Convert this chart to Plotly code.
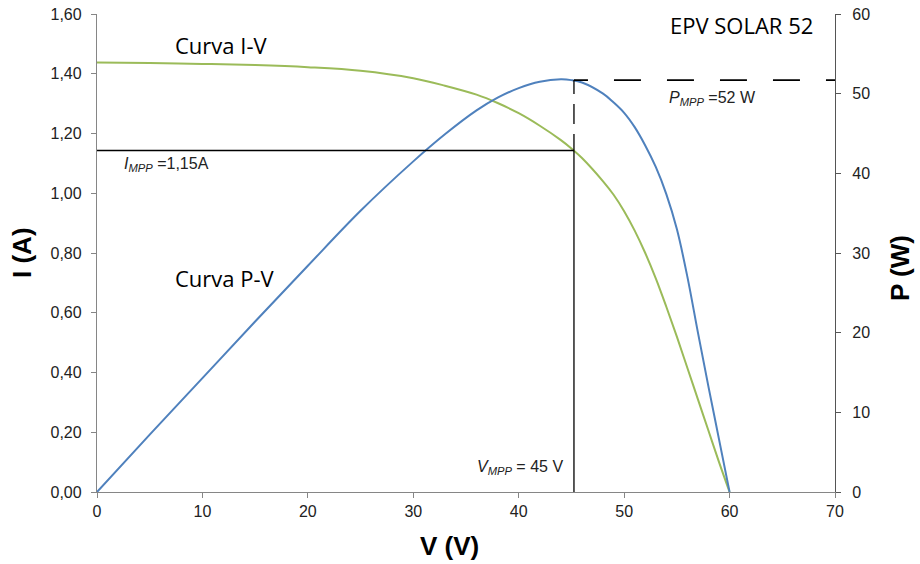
import plotly.graph_objects as go

# ---- data ----
V = [0, 5, 10, 15, 20, 25, 30, 33, 36, 38, 40, 42, 44, 45, 46, 48, 49, 50, 51, 52, 53, 54, 55, 56, 57, 58, 59, 60]
I_A = [1.438, 1.436, 1.433, 1.429, 1.422, 1.410, 1.385, 1.360, 1.330, 1.302, 1.268, 1.226, 1.178,
       1.150, 1.118, 1.040, 0.995, 0.940, 0.875, 0.800, 0.715, 0.620, 0.520, 0.415, 0.310, 0.205, 0.100, 0.0]
P_W = [0, 7.2, 14.3, 21.4, 28.4, 35.3, 41.5, 44.9, 47.9, 49.5, 50.7, 51.5, 51.8,
       51.7, 51.4, 50.0, 48.9, 47.6, 45.8, 43.5, 40.8, 37.4, 33.0, 27.0, 20.0, 13.2, 6.6, 0]

V_MPP = 45.24
I_MPP = 1.143
P_MPP = 51.7
X_MAX = 70

x_ticks = [0, 10, 20, 30, 40, 50, 60, 70]
i_ticks = [0, 0.2, 0.4, 0.6, 0.8, 1.0, 1.2, 1.4, 1.6]
p_ticks = [0, 10, 20, 30, 40, 50, 60]

GREEN = "#9BBB59"
BLUE = "#4F81BD"
AXIS = "#868686"
TXT = "#222222"
TICKFONT = dict(family="Liberation Sans, Arial", size=16, color=TXT)

# plot area in screen pixels
L, R, T, B = 97, 835, 14, 492
W, H = 920, 564


def pxx(x):
    return (x - L) / (R - L)


def pxy(y):
    return (B - y) / (B - T)


fig = go.Figure()
fig.add_trace(go.Scatter(x=V, y=I_A, mode="lines", line=dict(color=GREEN, width=2, shape="spline", smoothing=1.0),
                         yaxis="y", showlegend=False, hoverinfo="skip"))
fig.add_trace(go.Scatter(x=V, y=P_W, mode="lines", line=dict(color=BLUE, width=2, shape="spline", smoothing=1.0),
                         yaxis="y2", showlegend=False, hoverinfo="skip"))

shapes = [
    dict(type="line", xref="x", yref="y", x0=0, x1=V_MPP, y0=I_MPP, y1=I_MPP,
         line=dict(color="black", width=1.6)),
    dict(type="line", xref="x", yref="y", x0=V_MPP, x1=V_MPP, y0=0, y1=I_MPP,
         line=dict(color="black", width=1.3)),
    dict(type="line", xref="x", yref="y2", x0=V_MPP, x1=V_MPP, y0=P_MPP, y1=I_MPP / 1.6 * 60,
         line=dict(color="black", width=1.3, dash="14px,10px,20px,10px,20px,10px")),
    dict(type="line", xref="x", yref="y2", x0=V_MPP, x1=X_MAX, y0=P_MPP, y1=P_MPP,
         line=dict(color="black", width=1.6,
                   dash="14px,26px,27px,26px,27px,26px,27px,26px,27px,26px,27px,300px")),
]

annotations = [
    dict(text="Curva I-V", x=pxx(221), y=pxy(45), xref="paper", yref="paper", showarrow=False,
         xanchor="center", yanchor="middle", font=dict(family="Open Sans", size=22, color="black")),
    dict(text="Curva P-V", x=pxx(225), y=pxy(278), xref="paper", yref="paper", showarrow=False,
         xanchor="center", yanchor="middle", font=dict(family="Open Sans", size=22, color="black")),
    dict(text="EPV SOLAR 52", x=pxx(741), y=pxy(25), xref="paper", yref="paper", showarrow=False,
         xanchor="center", yanchor="middle", font=dict(family="Open Sans", size=22, color="black")),
    dict(text="<i>I<sub>MPP</sub></i> =1,15A", x=pxx(122), y=pxy(164), xref="paper", yref="paper",
         showarrow=False, xanchor="left", yanchor="middle", font=TICKFONT),
    dict(text="<i>P<sub>MPP</sub></i> =52 W", x=pxx(667), y=pxy(98), xref="paper", yref="paper",
         showarrow=False, xanchor="left", yanchor="middle", font=TICKFONT),
    dict(text="<i>V<sub>MPP</sub></i> = 45 V", x=pxx(475), y=pxy(467), xref="paper", yref="paper",
         showarrow=False, xanchor="left", yanchor="middle", font=TICKFONT),
    dict(text="<b>I (A)</b>", x=pxx(22), y=pxy(253), xref="paper", yref="paper", showarrow=False,
         textangle=-90, xanchor="center", yanchor="middle",
         font=dict(family="Liberation Sans, Arial", size=26, color="black")),
    dict(text="<b>P (W)</b>", x=pxx(900), y=pxy(268), xref="paper", yref="paper", showarrow=False,
         textangle=-90, xanchor="center", yanchor="middle",
         font=dict(family="Liberation Sans, Arial", size=26, color="black")),
    dict(text="<b>V (V)</b>", x=pxx(449), y=pxy(546), xref="paper", yref="paper", showarrow=False,
         xanchor="center", yanchor="middle",
         font=dict(family="Liberation Sans, Arial", size=26, color="black")),
]

fig.update_layout(
    width=W, height=H,
    margin=dict(l=L, r=W - R, t=T, b=H - B, pad=0, autoexpand=False),
    paper_bgcolor="white", plot_bgcolor="white",
    separators=",.",
    showlegend=False,
    shapes=shapes,
    annotations=annotations,
    xaxis=dict(range=[0, X_MAX], tickvals=x_ticks, showgrid=False, zeroline=False, automargin=False,
               showline=True, linecolor=AXIS, linewidth=1.3, ticks="outside", ticklen=5,
               tickcolor=AXIS, tickfont=TICKFONT, ticklabeloverflow="allow", fixedrange=True),
    yaxis=dict(range=[0, 1.6], tickvals=i_ticks, tickformat=".2f", showgrid=False, zeroline=False,
               automargin=False,
               showline=True, linecolor=AXIS, linewidth=1.3, ticks="outside", ticklen=5,
               tickcolor=AXIS, tickfont=TICKFONT, ticklabelstandoff=6, ticklabeloverflow="allow",
               fixedrange=True),
    yaxis2=dict(range=[0, 60], tickvals=p_ticks, overlaying="y", side="right", showgrid=False,
                zeroline=False, automargin=False, showline=True, linecolor="#555555", linewidth=1.3,
                ticks="outside", ticklen=5, tickcolor="#555555", tickfont=TICKFONT,
                ticklabelstandoff=8, ticklabeloverflow="allow", fixedrange=True),
)

fig.write_html("out.html", config={"displayModeBar": False},
               post_script="document.body.style.margin='0';")
